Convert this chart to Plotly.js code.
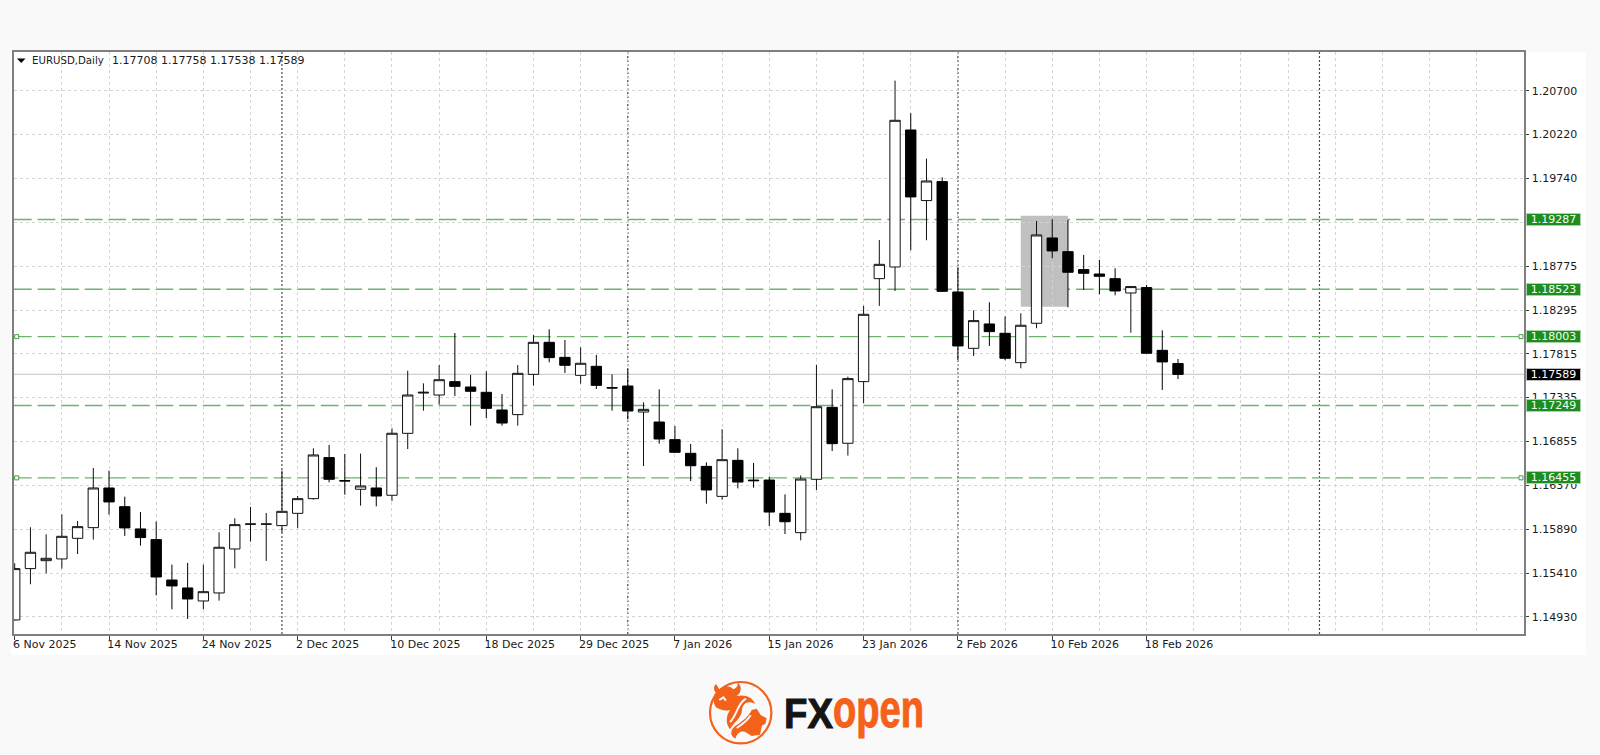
<!DOCTYPE html>
<html>
<head>
<meta charset="utf-8">
<script src="https://cdn.plot.ly/plotly-3.0.1.min.js"></script>
<style>html,body{margin:0;padding:0;background:#f9f9f9;}#chart{width:1600px;height:755px;}</style>
</head>
<body>
<div id="chart"></div>
<script>
// Trading days (one per candle)
var dates = [
 "6 Nov 2025","7 Nov 2025","10 Nov 2025","11 Nov 2025","12 Nov 2025","13 Nov 2025","14 Nov 2025","17 Nov 2025","18 Nov 2025","19 Nov 2025","20 Nov 2025","21 Nov 2025","24 Nov 2025","25 Nov 2025","26 Nov 2025","27 Nov 2025","28 Nov 2025",
 "1 Dec 2025","2 Dec 2025","3 Dec 2025","4 Dec 2025","5 Dec 2025","8 Dec 2025","9 Dec 2025","10 Dec 2025","11 Dec 2025","12 Dec 2025","15 Dec 2025","16 Dec 2025","17 Dec 2025","18 Dec 2025","19 Dec 2025","22 Dec 2025","23 Dec 2025","24 Dec 2025","26 Dec 2025","29 Dec 2025","30 Dec 2025","31 Dec 2025",
 "2 Jan 2026","5 Jan 2026","6 Jan 2026","7 Jan 2026","8 Jan 2026","9 Jan 2026","12 Jan 2026","13 Jan 2026","14 Jan 2026","15 Jan 2026","16 Jan 2026","19 Jan 2026","20 Jan 2026","21 Jan 2026","22 Jan 2026","23 Jan 2026","26 Jan 2026","27 Jan 2026","28 Jan 2026","29 Jan 2026","30 Jan 2026",
 "2 Feb 2026","3 Feb 2026","4 Feb 2026","5 Feb 2026","6 Feb 2026","9 Feb 2026","10 Feb 2026","11 Feb 2026","12 Feb 2026","13 Feb 2026","16 Feb 2026","17 Feb 2026","18 Feb 2026","19 Feb 2026","20 Feb 2026"];

var open = [1.14897,1.15460,1.15547,1.15566,1.15792,1.15909,1.16344,1.16139,1.15895,1.15778,1.15335,1.15248,1.15105,1.15193,1.15675,1.15946,1.15946,
 1.15931,1.16066,1.16227,1.16677,1.16425,1.16330,1.16344,1.16264,1.16943,1.17385,1.17363,1.17510,1.17451,1.17393,1.17199,1.17148,1.17590,1.17941,1.17776,1.17579,1.17678,1.17444,
 1.17462,1.17177,1.17067,1.16874,1.16724,1.16581,1.16252,1.16647,1.16431,1.16431,1.16066,1.15854,1.16439,1.17228,1.16834,1.17510,1.18639,1.18767,1.20269,1.19495,1.19703,
 1.18493,1.17875,1.18142,1.18040,1.17718,1.18150,1.19085,1.18935,1.18738,1.18690,1.18639,1.18482,1.18541,1.17853,1.17708];

var high = [1.15518,1.15913,1.15836,1.16055,1.15982,1.16563,1.16534,1.16249,1.16081,1.15975,1.15504,1.15522,1.15504,1.15858,1.16012,1.16136,1.16070,
 1.16534,1.16256,1.16779,1.16816,1.16717,1.16721,1.16571,1.16998,1.17630,1.17491,1.17692,1.18043,1.17583,1.17623,1.17374,1.17692,1.18021,1.18083,1.17966,1.17886,1.17802,1.17590,
 1.17648,1.17283,1.17425,1.17023,1.16826,1.16625,1.16987,1.16779,1.16618,1.16468,1.16274,1.16482,1.17692,1.17425,1.17565,1.18340,1.19063,1.20810,1.20452,1.19955,1.19750,
 1.18764,1.18292,1.18380,1.18226,1.18259,1.19272,1.19290,1.19283,1.18899,1.18844,1.18753,1.18559,1.18570,1.18073,1.17758];

var low = [1.14890,1.15288,1.15408,1.15460,1.15620,1.15778,1.16052,1.15818,1.15712,1.15167,1.15014,1.14908,1.15014,1.15109,1.15463,1.15756,1.15544,
 1.15858,1.15906,1.16216,1.16406,1.16271,1.16150,1.16143,1.16202,1.16771,1.17192,1.17257,1.17352,1.17027,1.17111,1.17027,1.17027,1.17466,1.17722,1.17605,1.17488,1.17429,1.17192,
 1.17097,1.16585,1.16830,1.16727,1.16420,1.16172,1.16216,1.16340,1.16347,1.15927,1.15839,1.15770,1.16322,1.16749,1.16699,1.17273,1.18340,1.18504,1.18950,1.19060,1.18493,
 1.17747,1.17791,1.17901,1.17744,1.17656,1.18095,1.18862,1.18325,1.18515,1.18468,1.18457,1.18047,1.17817,1.17419,1.17538];

var close = [1.15460,1.15639,1.15573,1.15814,1.15920,1.16344,1.16191,1.15906,1.15800,1.15368,1.15270,1.15127,1.15207,1.15694,1.15942,1.15949,1.15949,
 1.16088,1.16227,1.16706,1.16439,1.16421,1.16366,1.16256,1.16944,1.17363,1.17393,1.17531,1.17458,1.17404,1.17217,1.17056,1.17601,1.17941,1.17773,1.17689,1.17711,1.17469,1.17440,
 1.17188,1.17206,1.16881,1.16735,1.16588,1.16322,1.16654,1.16409,1.16424,1.16080,1.15974,1.16442,1.17235,1.16830,1.17543,1.18248,1.18796,1.20375,1.19535,1.19710,1.18500,
 1.17901,1.18179,1.18058,1.17766,1.18128,1.19118,1.18943,1.18709,1.18698,1.18665,1.18504,1.18552,1.17821,1.17726,1.17589];

var yTickVals  = [1.2070,1.2022,1.1974,1.1926,1.18775,1.18295,1.17815,1.17335,1.16855,1.16375,1.1589,1.1541,1.1493];
var yTickText  = ["1.20700","1.20220","1.19740","1.19260","1.18775","1.18295","1.17815","1.17335","1.16855","1.16370","1.15890","1.15410","1.14930"];
var levels     = [1.19287,1.18523,1.18003,1.17249,1.16455];
var anchored   = [1.18003,1.16455];
var lastPrice  = 1.17589;
var separators = [17,39,60,83];
var zone       = {i0:64,i1:67,p0:1.18332,p1:1.19330};
var symbolText = "EURUSD,Daily";
var quoteText  = "1.17708 1.17758 1.17538 1.17589";

var idx = dates.map(function(_,i){return i;});
var major = idx.filter(function(i){return i%6===0 && i<=72;});
var minor = [];
for (var m=3;m<=96;m+=3){ if(major.indexOf(m)<0) minor.push(m); }

// pixel helpers for page furniture only
var L=14,R=1524,T=52,B=634;
function PX(x){return (x-L)/(R-L);}
function PY(y){return (B-y)/(B-T);}
function logoPath(s){
  return s.replace(/(-?[\d.]+),(-?[\d.]+)/g,function(_,a,b){
    return PX(680+a/3).toFixed(5)+','+PY(660+b/3).toFixed(5);
  });
}
var GRID='#d4d4d4', GREEN='#6db36d', TXT='#1a1a1a', ORANGE='#f4611a', LOGOBG='#f9f9f9';

var shapes=[];
shapes.push({type:'rect',xref:'paper',yref:'paper',x0:PX(11),x1:PX(1586),y0:PY(52),y1:PY(655),fillcolor:'#ffffff',line:{width:0},layer:'below'});
shapes.push({type:'rect',xref:'x',yref:'y',x0:zone.i0,x1:zone.i1,y0:zone.p0,y1:zone.p1,fillcolor:'#c0c0c0',line:{width:0},layer:'below'});
separators.forEach(function(s){
  shapes.push({type:'line',xref:'x',yref:'paper',x0:s,x1:s,y0:0,y1:1,line:{color:'#4a4a4a',width:1.2,dash:'2px,2px'},layer:'between'});
});
shapes.push({type:'line',xref:'paper',yref:'y',x0:0,x1:1,y0:lastPrice,y1:lastPrice,line:{color:'#cfcfcf',width:1.2},layer:'between'});
levels.forEach(function(p){
  shapes.push({type:'line',xref:'paper',yref:'y',x0:0,x1:1,y0:p,y1:p,line:{color:GREEN,width:1.4,dash:'17.7px,5.9px'},layer:'between'});
});
anchored.forEach(function(p){
  [0,1].forEach(function(side){
    shapes.push({type:'rect',xref:'paper',yref:'y',xsizemode:'pixel',ysizemode:'pixel',xanchor:side?PX(1521):PX(16.7),yanchor:p,x0:-2,x1:2,y0:-2,y1:2,fillcolor:'#ffffff',line:{color:'#3f9f3f',width:1},layer:'above'});
  });
});
shapes.push({type:'path',xref:'paper',yref:'paper',path:'M'+PX(17)+','+PY(58.5)+' L'+PX(25.5)+','+PY(58.5)+' L'+PX(21.2)+','+PY(63)+' Z',fillcolor:'#000',line:{width:0},layer:'above'});

// FXOpen emblem
shapes.push({type:'circle',xref:'paper',yref:'paper',layer:'above',line:{color:ORANGE,width:2.2},fillcolor:'rgba(0,0,0,0)',
  x0:PX(710),x1:PX(771.4),y0:PY(743.4),y1:PY(682)});
[
 'M108,72 L118,88 C128,76 150,76 160,88 C170,84 176,76 172,66 C186,76 186,98 170,108 C195,102 218,112 226,132 C205,120 188,128 186,150 C186,172 162,186 150,208 C138,192 136,172 150,150 C135,154 120,150 108,142 C98,125 98,108 108,98 C100,90 100,80 108,72 Z',
 'M215,150 L230,146 L242,165 L260,175 L256,192 L246,196 L240,224 L215,228 L196,216 C182,212 172,218 166,236 C148,226 150,208 170,195 C190,182 205,170 215,150 Z'
].forEach(function(p){
  shapes.push({type:'path',xref:'paper',yref:'paper',layer:'above',line:{width:0},fillcolor:ORANGE,path:logoPath(p)});
});
[
 'M198,116 C170,132 172,165 150,186',
 'M170,204 C186,192 200,186 212,166',
 'M118,120 L130,112 L138,122'
].forEach(function(p){
  shapes.push({type:'path',xref:'paper',yref:'paper',layer:'above',line:{color:LOGOBG,width:2},fillcolor:'rgba(0,0,0,0)',path:logoPath(p)});
});

function levelLabel(p,bg,border){
  return {xref:'paper',yref:'y',x:PX(1526),y:p,xanchor:'left',yanchor:'middle',text:p.toFixed(5),showarrow:false,
    font:{family:'DejaVu Sans',size:11,color:'#f4fff4'},bgcolor:bg,bordercolor:border,borderwidth:1,borderpad:0,width:53,height:11,align:'center'};
}
var annotations=levels.map(function(p){return levelLabel(p,'#1f8c1f','#a9d4a9');});
annotations.push(levelLabel(lastPrice,'#000000','#bdbdbd'));
annotations[annotations.length-1].font.color='#ffffff';
annotations.push({xref:'paper',yref:'paper',x:PX(32),y:PY(60.5),xanchor:'left',yanchor:'middle',text:symbolText,showarrow:false,font:{family:'DejaVu Sans',size:10.2,color:TXT},borderpad:0,borderwidth:0});
annotations.push({xref:'paper',yref:'paper',x:PX(111.5),y:PY(60.5),xanchor:'left',yanchor:'middle',text:quoteText,showarrow:false,font:{family:'DejaVu Sans',size:11,color:TXT},borderpad:0,borderwidth:0});
annotations.push({xref:'paper',yref:'paper',x:PX(783),y:PY(713),xanchor:'left',yanchor:'middle',text:'<b>FX</b>',showarrow:false,font:{family:'Liberation Sans',size:42,color:'#141414'},borderpad:0});
annotations.push({xref:'paper',yref:'paper',x:PX(832),y:PY(709),xanchor:'left',yanchor:'middle',text:'<b>open</b>',showarrow:false,font:{family:'Liberation Sans',size:52,color:ORANGE},borderpad:0});

var trace={type:'candlestick',x:idx,open:open,high:high,low:low,close:close,text:dates,whiskerwidth:0,
  increasing:{line:{color:'#111111',width:1},fillcolor:'#ffffff'},
  decreasing:{line:{color:'#000000',width:1},fillcolor:'#000000'},
  showlegend:false,hoverinfo:'text+y'};

var layout={
  width:1600,height:755,margin:{l:L,r:1600-R,t:T,b:755-B,pad:0},
  paper_bgcolor:'#f9f9f9',plot_bgcolor:'rgba(0,0,0,0)',showlegend:false,boxgap:0.06,boxgroupgap:0.3,
  font:{family:'DejaVu Sans',size:11,color:TXT},
  xaxis:{type:'linear',range:[-0.045,96.01],rangeslider:{visible:false},tickmode:'array',tickvals:major,
    ticktext:major.map(function(i){return dates[i];}),ticks:'outside',ticklen:4,tickcolor:'#404040',tickwidth:1,
    ticklabelposition:'outside right',ticklabelshift:-3,ticklabelstandoff:-1,tickangle:0,showgrid:true,gridcolor:GRID,griddash:'3px,3px',gridwidth:1,
    minor:{tickmode:'array',tickvals:minor,showgrid:true,gridcolor:GRID,griddash:'3px,3px',gridwidth:1,ticks:''},
    showline:true,linecolor:'#7f7f7f',linewidth:1.6,mirror:true,zeroline:false,tickfont:{family:'DejaVu Sans',size:11,color:TXT},automargin:false},
  yaxis:{side:'right',range:[1.14743,1.21124],tickmode:'array',tickvals:yTickVals,ticktext:yTickText,ticks:'outside',ticklen:3,tickcolor:'#404040',ticklabelstandoff:1,
    showgrid:true,gridcolor:GRID,griddash:'3px,3px',gridwidth:1,showline:true,linecolor:'#7f7f7f',linewidth:1.6,mirror:true,zeroline:false,
    tickfont:{family:'DejaVu Sans',size:11,color:TXT},automargin:false},
  shapes:shapes,annotations:annotations
};
Plotly.newPlot('chart',[trace],layout,{displayModeBar:false,responsive:false,staticPlot:true}).then(function(){
  // Fit the wordmark letters to the width of the brand logo
  var fit={'FX':[49,'#141414'],'open':[91,ORANGE]};
  document.querySelectorAll('.annotation text').forEach(function(t){
    var f=fit[t.textContent];
    if(!f) return;
    var bb=t.getBBox(), sx=f[0]/bb.width;
    t.setAttribute('transform','translate('+(bb.x*(1-sx))+',0) scale('+sx+',1)');
    t.style.stroke=f[1]; t.style.strokeWidth='1px';
  });
});
</script>
</body>
</html>
